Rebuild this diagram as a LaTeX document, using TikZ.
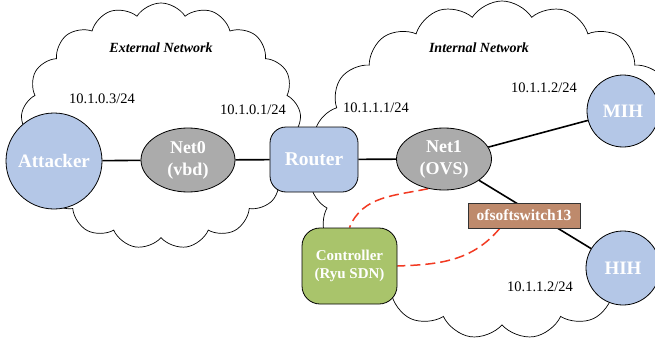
\documentclass[tikz,border=0pt]{standalone}
\usepackage{fontspec}
\setmainfont{Liberation Serif}
\usetikzlibrary{shapes.geometric,shapes.symbols}
\definecolor{hostblue}{HTML}{B4C7E7}
\definecolor{netgray}{HTML}{ABABAB}
\definecolor{ctrlgreen}{HTML}{A9C46B}
\definecolor{swbrown}{HTML}{BE8A6C}
\definecolor{ctrlred}{HTML}{F23A22}
\pgfdeclarelayer{clouds}
\pgfdeclarelayer{edges}
\pgfsetlayers{clouds,edges,main}
\tikzset{
  netcloud/.style={cloud, cloud puffs=17, cloud puff arc=115, cloud ignores aspect,
    draw=black, line width=0.7pt, fill=white, inner sep=0pt},
  host/.style={circle, draw=black, line width=0.8pt, fill=hostblue, text=white,
    font=\fontsize{19}{21}\selectfont\bfseries, inner sep=0pt},
  bridge/.style={ellipse, draw=black, line width=0.8pt, fill=netgray, text=white,
    font=\fontsize{18}{22}\selectfont\bfseries, align=center, inner sep=0pt},
  boxnode/.style={rectangle, rounded corners=16pt, draw=black, line width=0.8pt,
    text=white, align=center, inner sep=0pt},
  iplabel/.style={font=\fontsize{14.5}{16}\selectfont, inner sep=0pt},
  cloudtitle/.style={font=\fontsize{14}{16}\selectfont\bfseries\itshape, inner sep=0pt},
  link/.style={line width=1.6pt, black},
  ctrllink/.style={line width=1.5pt, ctrlred, dash pattern=on 10pt off 5pt},
}
\begin{document}
\begin{tikzpicture}
\useasboundingbox (0,0) rectangle (655pt,-337pt);
\begin{scope}[x=1pt,y=1pt]
  % hosts, bridges and boxes
  \node[host, minimum size=96pt] (attacker) at (54,-161) {Attacker};
  \node[bridge, minimum width=94pt, minimum height=64pt] (net0) at (188,-160) {Net0\\(vbd)};
  \node[boxnode, fill=hostblue, minimum width=88pt, minimum height=65pt,
        font=\fontsize{19.5}{22}\selectfont\bfseries] (router) at (314,-159.5) {Router};
  \node[bridge, minimum width=95pt, minimum height=62pt] (net1) at (444,-159) {Net1\\(OVS)};
  \node[host, minimum size=72pt] (mih) at (623,-111) {MIH};
  \node[host, minimum size=74pt] (hih) at (623,-268) {HIH};
  \node[boxnode, fill=ctrlgreen, rounded corners=18pt, minimum width=95pt, minimum height=76pt,
        font=\fontsize{15}{17.5}\selectfont\bfseries] (ctrl) at (349.5,-266) {Controller\\(Ryu SDN)};
  \node[rectangle, draw=black!80, line width=0.8pt, fill=swbrown, text=white,
        minimum width=112pt, minimum height=25pt, inner sep=0pt,
        font=\fontsize{15.5}{17}\selectfont\bfseries] (sw) at (524,-215.5) {ofsoftswitch13};

  % addresses and network names
  \node[cloudtitle] (extname) at (161,-48) {External Network};
  \node[cloudtitle] (intname) at (479,-48) {Internal Network};
  \node[iplabel] (ipatt) at (102,-99) {10.1.0.3/24};
  \node[iplabel] (iprext) at (253,-110) {10.1.0.1/24};
  \node[iplabel] (iprint) at (376,-108) {10.1.1.1/24};
  \node[iplabel] (ipmih) at (544,-88) {10.1.1.2/24};
  \node[iplabel] (iphih) at (540,-287) {10.1.1.2/24};

  % network clouds behind everything
  \begin{pgfonlayer}{clouds}
    \node[netcloud, minimum width=280pt, minimum height=246pt] (extcloud) at (161,-126) {};
    \node[netcloud, cloud puffs=19, minimum width=384pt, minimum height=338pt] (intcloud) at (502,-170) {};
  \end{pgfonlayer}

  % links
  \begin{pgfonlayer}{edges}
    \draw[link] (attacker) -- (net0);
    \draw[link] (net0) -- (router);
    \draw[link] (router) -- (net1);
    \draw[link] (net1) -- (mih);
    \draw[link] (net1) -- (hih);
    \draw[ctrllink] (net1.-118) to[out=192, in=68] (ctrl.north);
    \draw[ctrllink] (sw.-152) to[out=230, in=2] (ctrl.east);
  \end{pgfonlayer}
\end{scope}
\end{tikzpicture}
\end{document}
